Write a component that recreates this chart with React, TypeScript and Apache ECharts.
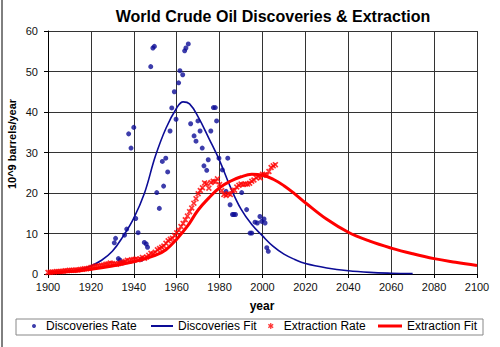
import { useEffect, useRef } from "react";
import * as echarts from "echarts";

const TITLE = "World Crude Oil Discoveries & Extraction";
const Y_NAME = "10^9 barrels/year";
const X_NAME = "year";
const seriesNames = ["Discoveries Rate", "Discoveries Fit", "Extraction Rate", "Extraction Fit"];

// Discoveries (scatter)
const discoveryYears = [
  1930.9, 1931.5, 1932.8, 1933.6, 1935.1, 1935.7, 1936.7, 1937.6, 1938.7, 1940.0,
  1940.9, 1942.0, 1943.5, 1944.9, 1945.8, 1946.4, 1947.9, 1948.9, 1949.6, 1950.7,
  1951.9, 1953.3, 1953.9, 1954.9, 1955.8, 1956.9, 1957.7, 1958.9, 1959.7, 1960.9,
  1961.5, 1962.8, 1963.7, 1964.3, 1965.4, 1966.5, 1968.1, 1969.0, 1969.9, 1970.9,
  1971.9, 1972.7, 1974.0, 1974.7, 1975.9, 1977.1, 1978.0, 1978.6, 1979.7, 1981.3,
  1983.0, 1983.8, 1984.9, 1986.0, 1986.6, 1987.4, 1990.3, 1992.6, 1994.2, 1995.0,
  1996.5, 1997.6, 1998.8, 1999.6, 2000.7, 2001.2, 2002.0, 2002.7,
];
const discoveryRates = [
  7.7, 8.8, 3.8, 3.4, 2.8, 9.6, 11.1, 34.6, 31.1, 36.2,
  13.7, 10.2, 3.6, 7.8, 7.4, 6.6, 51.2, 55.8, 56.2, 20.1,
  16.2, 27.8, 21.7, 28.6, 25.2, 35.3, 41.0, 45.0, 38.2, 47.2,
  50.2, 49.2, 55.1, 55.8, 56.8, 37.1, 34.1, 32.8, 37.8, 35.3,
  31.1, 26.7, 25.6, 28.2, 35.3, 41.1, 41.1, 37.8, 28.6, 25.7,
  20.4, 28.6, 17.1, 14.7, 14.7, 14.7, 20.1, 15.9, 10.1, 10.1,
  12.8, 12.6, 14.2, 13.0, 13.6, 12.6, 6.5, 5.6,
];

// Discoveries fit curve
const discoveryFitYears = [
  1900, 1905, 1910, 1915, 1920, 1925, 1930, 1935, 1940, 1945, 1950, 1955, 1960, 1963,
  1966, 1970, 1975, 1980, 1985, 1990, 1995, 2000, 2005, 2010, 2015, 2020, 2030, 2040,
  2050, 2060, 2070,
];
const discoveryFitValues = [
  0.2, 0.35, 0.6, 1.1, 2.0, 3.4, 5.6, 9.3, 13.8, 20.0, 29.0, 36.0, 41.0, 42.5,
  42.0, 38.8, 33.5, 28.0, 21.5, 16.0, 12.2, 9.4, 6.8, 4.9, 3.6, 2.6, 1.5, 0.8,
  0.4, 0.2, 0.1,
];

// Extraction (annual), 1900..2006
const extractionStartYear = 1900;
const extractionRates = [
  0.4, 0.45, 0.5, 0.5, 0.6, 0.6, 0.6, 0.7, 0.8, 0.8,
  0.9, 0.9, 0.9, 1.0, 1.0, 1.1, 1.2, 1.3, 1.3, 1.4,
  1.6, 1.7, 1.9, 2.0, 2.0, 2.1, 2.2, 2.4, 2.5, 2.7,
  2.6, 2.5, 2.4, 2.6, 2.7, 2.9, 3.1, 3.4, 3.3, 3.5,
  3.6, 3.7, 3.5, 3.7, 4.1, 3.9, 4.2, 4.6, 5.1, 5.0,
  5.4, 6.0, 6.3, 6.6, 6.9, 7.6, 8.2, 8.6, 8.8, 9.5,
  10.2, 10.8, 11.7, 12.5, 13.4, 14.3, 15.4, 16.3, 17.5, 18.6,
  19.8, 20.6, 21.3, 22.5, 22.3, 21.2, 22.6, 22.9, 22.8, 23.5,
  22.1, 20.6, 19.6, 19.4, 19.8, 19.6, 20.6, 20.7, 21.5, 21.9,
  22.2, 22.1, 22.2, 22.2, 22.4, 22.9, 23.2, 23.8, 24.1, 23.7,
  24.6, 24.5, 24.4, 25.3, 26.3, 26.7, 27.0,
];

// Extraction fit curve
const extractionFitYears = [
  1900, 1910, 1920, 1930, 1940, 1950, 1955, 1960, 1965, 1970, 1975, 1980, 1985, 1990,
  1995, 2000, 2005, 2010, 2015, 2020, 2030, 2040, 2050, 2060, 2070, 2080, 2090, 2100,
];
const extractionFitValues = [
  0.3, 0.6, 1.2, 2.0, 3.0, 4.6, 6.0, 8.6, 11.8, 15.8, 18.8, 21.3, 22.9, 24.0,
  24.6, 24.4, 23.4, 21.8, 19.8, 17.6, 13.5, 10.3, 8.1, 6.4, 5.0, 3.8, 2.9, 2.1,
];

const X_MIN = 1900;
const X_MAX = 2100;
const X_STEP = 20;
const Y_MIN = 0;
const Y_MAX = 60;
const Y_STEP = 10;

const BLUE = "#0c0c96";
const RED = "#ff0000";
const FONT = "Liberation Sans, Arial, sans-serif";
const X_MARK =
  "path://M0,2 L2,0 L5,3 L8,0 L10,2 L7,5 L10,8 L8,10 L5,7 L2,10 L0,8 L3,5 Z";
const STAR_MARK =
  "path://M4,0 L6,0 L6,3 L8.6,1.4 L9.6,3.2 L7,5 L9.6,6.8 L8.6,8.6 L6,7 L6,10 L4,10 L4,7 L1.4,8.6 L0.4,6.8 L3,5 L0.4,3.2 L1.4,1.4 L4,3 Z";

export default function App() {
  const ref = useRef<HTMLDivElement>(null);
  useEffect(() => {
    document.body.style.margin = "0";
    const chart = echarts.init(ref.current!, undefined, { renderer: "svg" });
    const pair = (xs: number[], ys: number[]) => xs.map((x, i) => [x, ys[i]]);
    const extractionData = extractionRates.map((v, i) => [extractionStartYear + i, v]);
    const legendText = { fontFamily: FONT, fontSize: 12, color: "#000" };
    chart.setOption({
      animation: false,
      backgroundColor: "#fff",
      grid: { left: 48, right: 23, top: 31, bottom: 73, containLabel: false },
      xAxis: {
        type: "value",
        min: X_MIN,
        max: X_MAX,
        interval: X_STEP,
        axisLine: { show: true, lineStyle: { color: "#000", width: 1 } },
        axisTick: { show: true, length: 4, lineStyle: { color: "#000" } },
        axisLabel: {
          fontFamily: FONT, fontSize: 11, color: "#111", margin: 7,
          formatter: (v: number) => String(v),
        },
        splitLine: { show: true, lineStyle: { color: "#333", width: 1 } },
      },
      yAxis: {
        type: "value",
        min: Y_MIN,
        max: Y_MAX,
        interval: Y_STEP,
        axisLine: { show: true, lineStyle: { color: "#000", width: 1 } },
        axisTick: { show: true, length: 4, lineStyle: { color: "#000" } },
        axisLabel: { fontFamily: FONT, fontSize: 11, color: "#111", margin: 10 },
        splitLine: { show: true, lineStyle: { color: "#333", width: 1 } },
      },
      legend: [
        {
          data: [{ name: seriesNames[0], icon: "circle" }],
          left: 32, top: 320, itemWidth: 14, itemHeight: 4, padding: 0,
          textStyle: legendText,
        },
        {
          data: [{ name: seriesNames[1], icon: "rect" }],
          left: 151, top: 320, itemWidth: 22, itemHeight: 2, padding: 0,
          textStyle: legendText,
        },
        {
          data: [{ name: seriesNames[2], icon: STAR_MARK }],
          left: 268, top: 320, itemWidth: 16, itemHeight: 6, padding: 0,
          textStyle: legendText,
        },
        {
          data: [{ name: seriesNames[3], icon: "rect" }],
          left: 378, top: 320, itemWidth: 24, itemHeight: 3, padding: 0,
          textStyle: legendText,
        },
      ],
      graphic: [
        { type: "line", shape: { x1: 2, y1: 0, x2: 2, y2: 347 }, style: { stroke: "#000", lineWidth: 1 } },
        {
          type: "rect", shape: { x: 16, y: 319, width: 467, height: 16 },
          style: { fill: "none", stroke: "#888", lineWidth: 1 }, z: -1,
        },
        {
          type: "text", x: 273, y: 16,
          style: {
            text: TITLE, fontFamily: FONT, fontSize: 16, fontWeight: "bold", fill: "#000",
            textAlign: "center", textVerticalAlign: "middle",
          },
        },
        {
          type: "text", x: 12, y: 144, rotation: Math.PI / 2,
          style: {
            text: Y_NAME, fontFamily: FONT, fontSize: 11, fontWeight: "bold", fill: "#000",
            textAlign: "center", textVerticalAlign: "middle",
          },
        },
        {
          type: "text", x: 262, y: 306,
          style: {
            text: X_NAME, fontFamily: FONT, fontSize: 12, fontWeight: "bold", fill: "#000",
            textAlign: "center", textVerticalAlign: "middle",
          },
        },
      ],
      series: [
        {
          name: seriesNames[0],
          type: "scatter",
          data: pair(discoveryYears, discoveryRates),
          symbol: "circle",
          symbolSize: 5,
          itemStyle: { color: BLUE },
          z: 2,
        },
        {
          name: seriesNames[1],
          type: "line",
          data: pair(discoveryFitYears, discoveryFitValues),
          smooth: 0.4,
          symbol: "none",
          lineStyle: { color: BLUE, width: 1.6 },
          itemStyle: { color: BLUE },
          z: 3,
        },
        {
          name: seriesNames[2],
          type: "scatter",
          data: extractionData,
          symbol: X_MARK,
          symbolSize: 6,
          itemStyle: { color: RED },
          z: 4,
        },
        {
          name: seriesNames[3],
          type: "line",
          data: pair(extractionFitYears, extractionFitValues),
          smooth: 0.4,
          symbol: "none",
          lineStyle: { color: RED, width: 3 },
          itemStyle: { color: RED },
          z: 5,
        },
      ],
    });
    return () => chart.dispose();
  }, []);
  return (
    <div
      ref={ref}
      style={{ position: "absolute", left: 0, top: 0, width: 500, height: 347 }}
    />
  );
}
